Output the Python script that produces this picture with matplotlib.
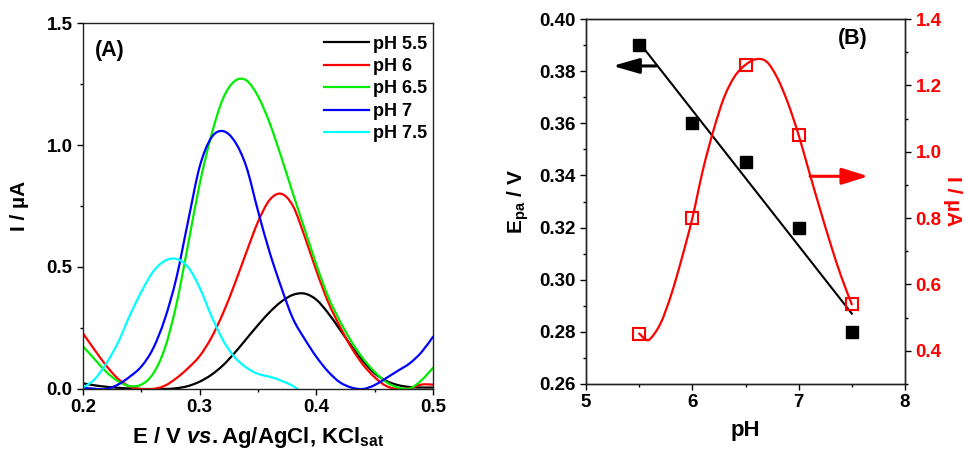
import numpy as np
import matplotlib
matplotlib.use("Agg")
import matplotlib.pyplot as plt
from matplotlib.ticker import MultipleLocator, FormatStrFormatter
from matplotlib.path import Path
from matplotlib.patches import PathPatch

plt.rcParams['font.family'] = ['Liberation Sans', 'DejaVu Sans']
plt.rcParams['font.weight'] = 'bold'
plt.rcParams['mathtext.fontset'] = 'custom'
plt.rcParams['mathtext.rm'] = 'Liberation Sans:bold'
plt.rcParams['mathtext.bf'] = 'Liberation Sans:bold'
plt.rcParams['mathtext.it'] = 'Liberation Sans:italic:bold'
plt.rcParams['mathtext.sf'] = 'Liberation Sans'

# ---------------- Panel A data (DPV curves) ----------------
E = [0.20, 0.21, 0.22, 0.23, 0.24, 0.25, 0.26, 0.27, 0.28, 0.29,
     0.30, 0.31, 0.32, 0.33, 0.34, 0.35, 0.36, 0.37, 0.38, 0.39,
     0.40, 0.41, 0.42, 0.43, 0.44, 0.45, 0.46, 0.47, 0.48, 0.49, 0.50]

I_ph55 = [0.023, 0.015, 0.009, 0.005, 0.002, 0.000, 0.000, 0.000, 0.003, 0.012,
          0.030, 0.058, 0.097, 0.148, 0.205, 0.262, 0.315, 0.358, 0.386, 0.391,
          0.366, 0.312, 0.245, 0.177, 0.115, 0.064, 0.033, 0.016, 0.008, 0.006, 0.006]
I_ph6 = [0.228, 0.160, 0.095, 0.042, 0.010, 0.000, 0.000, 0.013, 0.044, 0.085,
         0.135, 0.210, 0.310, 0.430, 0.560, 0.685, 0.775, 0.800, 0.750, 0.625,
         0.485, 0.358, 0.258, 0.170, 0.100, 0.048, 0.012, 0.000, 0.003, 0.018, 0.018]
I_ph65 = [0.175, 0.122, 0.070, 0.032, 0.012, 0.018, 0.062, 0.165, 0.345, 0.590,
          0.840, 1.040, 1.190, 1.262, 1.265, 1.200, 1.090, 0.950, 0.800, 0.655,
          0.510, 0.380, 0.280, 0.195, 0.125, 0.070, 0.028, 0.006, 0.002, 0.035, 0.087]
I_ph7 = [0.005, 0.001, 0.000, 0.018, 0.050, 0.092, 0.165, 0.285, 0.454, 0.686,
         0.911, 1.030, 1.057, 1.015, 0.911, 0.730, 0.560, 0.416, 0.288, 0.205,
         0.132, 0.072, 0.028, 0.006, 0.000, 0.016, 0.045, 0.075, 0.105, 0.150, 0.214]
E_ph75 = [0.20, 0.21, 0.22, 0.23, 0.24, 0.25, 0.26, 0.27, 0.28, 0.29,
          0.30, 0.31, 0.32, 0.33, 0.34, 0.35, 0.36, 0.37, 0.38, 0.39]
I_ph75 = [0.005, 0.040, 0.105, 0.190, 0.300, 0.398, 0.480, 0.525, 0.533, 0.500,
          0.415, 0.300, 0.200, 0.130, 0.088, 0.062, 0.050, 0.034, 0.012, -0.020]

labels_A = ['pH 5.5', 'pH 6', 'pH 6.5', 'pH 7', 'pH 7.5']
colors_A = ['#000000', '#FF0000', '#00EE00', '#0000FF', '#00FFFF']

# ---------------- Panel B data ----------------
pH = [5.5, 6.0, 6.5, 7.0, 7.5]
Epa = [0.390, 0.360, 0.345, 0.320, 0.280]
Ipa = [0.452, 0.800, 1.262, 1.050, 0.540]
pH_curve = [5.5, 5.55, 5.6, 5.7, 5.8, 5.9, 6.0, 6.1, 6.2, 6.3, 6.4, 6.5,
            6.6, 6.7, 6.8, 6.9, 7.0, 7.1, 7.2, 7.3, 7.4, 7.5]
I_curve = [0.452, 0.437, 0.435, 0.482, 0.568, 0.678, 0.800, 0.946, 1.066, 1.165,
           1.228, 1.262, 1.279, 1.271, 1.222, 1.146, 1.050, 0.938, 0.828, 0.722,
           0.624, 0.540]


def smooth_line(ax, x, y, color, lw, zorder=2):
    """Draw a smooth (Bezier) line through the given data points."""
    P = np.column_stack([x, y]).astype(float)
    Pe = np.vstack([P[0], P, P[-1]])
    verts = [P[0]]
    codes = [Path.MOVETO]
    for i in range(len(P) - 1):
        p0, p1, p2, p3 = Pe[i], Pe[i + 1], Pe[i + 2], Pe[i + 3]
        verts += [p1 + (p2 - p0) / 6.0, p2 - (p3 - p1) / 6.0, p2]
        codes += [Path.CURVE4] * 3
    patch = PathPatch(Path(verts, codes), fill=False, edgecolor=color, lw=lw,
                      zorder=zorder, capstyle='round', joinstyle='round')
    ax.add_patch(patch)
    return patch


fig = plt.figure(figsize=(9.65, 4.54), dpi=100)


def style_axis(ax):
    for s in ax.spines.values():
        s.set_linewidth(1.0)
        s.set_color('#222222')
    ax.tick_params(which='major', direction='out', length=4.5, width=1.0, labelsize=13.5, pad=3)
    ax.tick_params(which='minor', direction='out', length=2.5, width=1.0)


# ---------------- Panel A ----------------
axA = fig.add_axes([0.086, 0.1432, 0.3627, 0.8061])
series = [(E, I_ph55), (E, I_ph6), (E, I_ph65), (E, I_ph7), (E_ph75, I_ph75)]
for (x, y), lab, c in zip(series, labels_A, colors_A):
    smooth_line(axA, x, y, c, 1.6)
    axA.plot([], [], color=c, lw=1.6, label=lab)
axA.set_xlim(0.2, 0.5)
axA.set_ylim(0.0, 1.5)
axA.xaxis.set_major_locator(MultipleLocator(0.1))
axA.xaxis.set_minor_locator(MultipleLocator(0.05))
axA.yaxis.set_major_locator(MultipleLocator(0.5))
axA.yaxis.set_minor_locator(MultipleLocator(0.25))
axA.xaxis.set_major_formatter(FormatStrFormatter('%.1f'))
axA.yaxis.set_major_formatter(FormatStrFormatter('%.1f'))
style_axis(axA)
axA.set_xlabel(r'E / V $\mathit{vs.}$Ag/AgCl, KCl$_{\mathbf{sat}}$', fontsize=16,
               fontweight='bold', labelpad=6)
axA.set_ylabel('I / µA', fontsize=15, fontweight='bold', labelpad=13)
axA.text(0.034, 0.925, '(A)', transform=axA.transAxes, fontsize=15.5, fontweight='bold',
         ha='left', va='center')
leg = axA.legend(loc='upper left', bbox_to_anchor=(0.652, 1.0), frameon=False,
                 fontsize=13, handlelength=2.5, handletextpad=0.2, labelspacing=0.3,
                 borderaxespad=0.3)
for t in leg.get_texts():
    t.set_fontweight('bold')

# ---------------- Panel B ----------------
axB = fig.add_axes([0.6073, 0.1542, 0.3305, 0.8039])
axB.plot(pH, Epa, 's', color='k', ms=8.5, zorder=3)
coef = np.polyfit(pH, Epa, 1)
fit_x = np.array([pH[0], pH[-1]])
axB.plot(fit_x, np.polyval(coef, fit_x), color='k', lw=1.5, zorder=2)
axB.set_xlim(5, 8)
axB.set_ylim(0.26, 0.40)
axB.xaxis.set_major_locator(MultipleLocator(1))
axB.xaxis.set_minor_locator(MultipleLocator(0.5))
axB.yaxis.set_major_locator(MultipleLocator(0.02))
axB.yaxis.set_minor_locator(MultipleLocator(0.01))
axB.yaxis.set_major_formatter(FormatStrFormatter('%.2f'))
style_axis(axB)
axB.set_xlabel('pH', fontsize=16, fontweight='bold', labelpad=6)
axB.set_ylabel(r'E$_{\mathsf{pa}}$ / V', fontsize=15, fontweight='bold', labelpad=6)
axB.text(0.837, 0.948, '(B)', transform=axB.transAxes, fontsize=15.5, fontweight='bold',
         ha='center', va='center')

ax2 = axB.twinx()
smooth_line(ax2, pH_curve, I_curve, '#FF0000', 1.6)
ax2.plot(pH, Ipa, 's', mfc='none', mec='#FF0000', mew=1.5, ms=8, zorder=3)
ax2.set_ylim(0.3, 1.4)
ax2.yaxis.set_major_locator(MultipleLocator(0.2))
ax2.yaxis.set_minor_locator(MultipleLocator(0.1))
ax2.yaxis.set_major_formatter(FormatStrFormatter('%.1f'))
style_axis(ax2)
ax2.tick_params(axis='y', which='both', labelcolor='#FF0000')
ax2.set_ylabel('I / µA', fontsize=15, fontweight='bold', color='#FF0000',
               rotation=270, labelpad=15)

# arrows
axB.annotate('', xy=(5.25, 0.382), xytext=(5.66, 0.382),
             arrowprops=dict(arrowstyle='-|>,head_length=0.8,head_width=0.23',
                             mutation_scale=20, lw=2.2, color='k',
                             shrinkA=0, shrinkB=0))
ax2.annotate('', xy=(7.655, 0.926), xytext=(7.107, 0.926),
             arrowprops=dict(arrowstyle='-|>,head_length=0.8,head_width=0.25',
                             mutation_scale=20, lw=2.2, color='#FF0000',
                             shrinkA=0, shrinkB=0))

fig.savefig('out.png', dpi=100)
